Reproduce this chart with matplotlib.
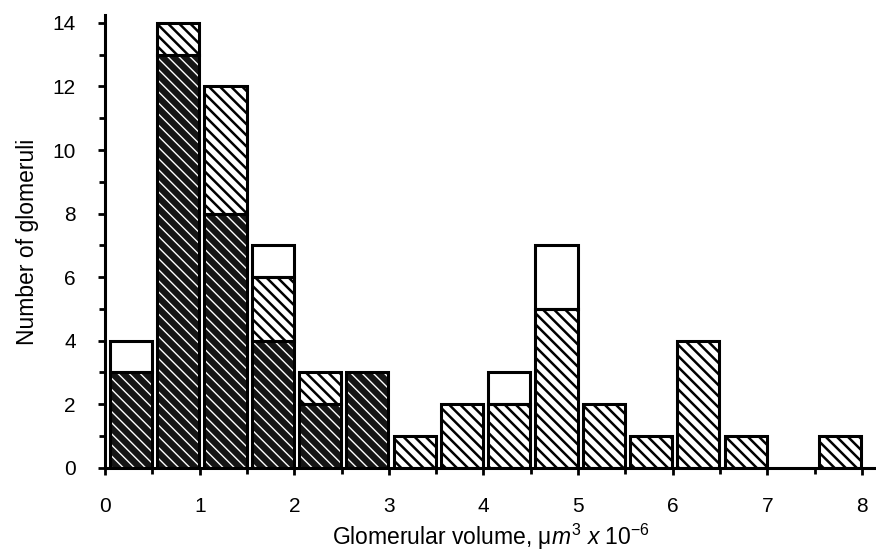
import matplotlib
matplotlib.use("Agg")
import matplotlib.pyplot as plt
import numpy as np

# bin left edges (width 0.5) and counts per group
bin_edges = [0.0, 0.5, 1.0, 1.5, 2.0, 2.5, 3.0, 3.5, 4.0, 4.5, 5.0, 5.5, 6.0, 6.5, 7.0, 7.5]
dark_counts = [3, 13, 8, 4, 2, 3, 0, 0, 0, 0, 0, 0, 0, 0, 0, 0]
light_counts = [0, 1, 4, 2, 1, 0, 1, 2, 2, 5, 2, 1, 4, 1, 0, 1]
open_counts = [1, 0, 0, 1, 0, 0, 0, 0, 1, 2, 0, 0, 0, 0, 0, 0]

x_ticks = [0, 1, 2, 3, 4, 5, 6, 7, 8]
y_ticks = [0, 2, 4, 6, 8, 10, 12, 14]

plt.rcParams['font.family'] = ['Liberation Sans', 'DejaVu Sans']
plt.rcParams['mathtext.fontset'] = 'custom'
plt.rcParams['mathtext.rm'] = 'Liberation Sans'
plt.rcParams['mathtext.it'] = 'Liberation Sans:italic'

fig = plt.figure(figsize=(8.76, 5.53), dpi=100)
ax = fig.add_axes([0.12, 0.154, 0.88, 0.819])

x = np.array(bin_edges) + 0.05
w = 0.445
dark = np.array(dark_counts)
light = np.array(light_counts)
opn = np.array(open_counts)

plt.rcParams['hatch.linewidth'] = 1.0
ax.bar(x, dark, width=w, align='edge', facecolor='#151515', edgecolor='white',
       hatch='\\\\\\', linewidth=0)
plt.rcParams['hatch.linewidth'] = 1.8
ax.bar(x, light, width=w, bottom=dark, align='edge', facecolor='white',
       edgecolor='black', hatch='\\\\\\', linewidth=0)

# outlines for each segment
for bottom, h in [(0, dark), (dark, light), (dark + light, opn)]:
    mask = h > 0
    ax.bar(x[mask], h[mask], width=w, bottom=np.broadcast_to(bottom, h.shape)[mask],
           align='edge', fill=False, edgecolor='black', linewidth=2.2)

ax.set_xlim(0, 8.15)
ax.set_ylim(0, 14.25)
ax.set_xticks(x_ticks)
ax.set_xticks(np.arange(0, 8.01, 0.5), minor=True)
ax.set_yticks(y_ticks)
ax.set_yticks(np.arange(0, 14.1, 1), minor=True)
ax.tick_params(axis='both', which='both', direction='out', width=2, labelsize=15)
ax.tick_params(axis='both', which='major', length=5)
ax.tick_params(axis='both', which='minor', length=4)
ax.tick_params(axis='x', which='major', pad=16)
ax.tick_params(axis='y', which='major', pad=16)

for side in ['top', 'right']:
    ax.spines[side].set_visible(False)
for side in ['left', 'bottom']:
    ax.spines[side].set_linewidth(2.2)

ax.set_ylabel("Number of glomeruli", fontsize=16.5, labelpad=10)
ax.set_xlabel(r"Glomerular volume, μ$\mathit{m}^{3}\ \mathit{x\ 10}^{-6}$", fontsize=16.5, labelpad=4)

fig.savefig("out.png", dpi=100)
